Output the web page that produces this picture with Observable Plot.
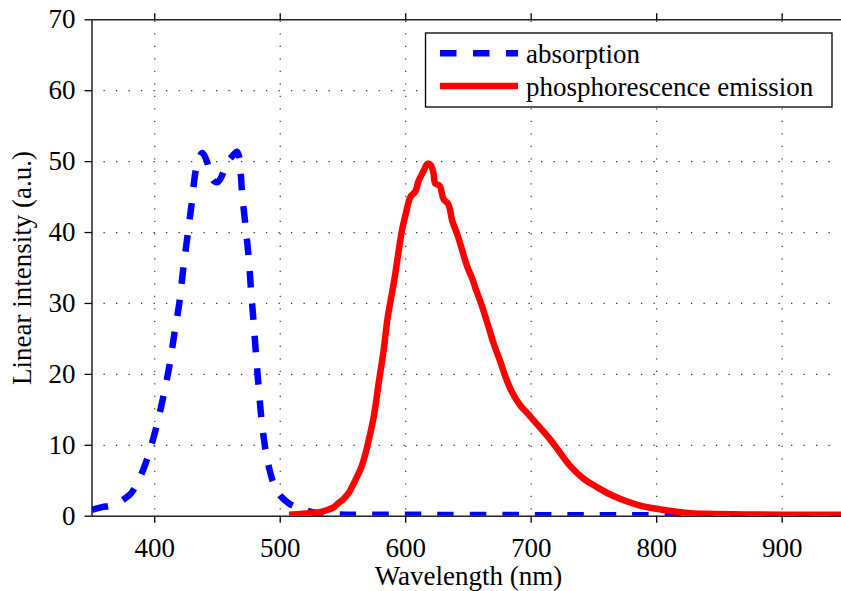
<!DOCTYPE html>
<html><head><meta charset="utf-8">
<script src="https://cdn.jsdelivr.net/npm/d3@7"></script>
<script src="https://cdn.jsdelivr.net/npm/@observablehq/plot@0.6"></script>
<style>
html,body{margin:0;padding:0;background:#fff;overflow:hidden}
#wrap{position:relative;width:841px;height:591px;overflow:hidden;background:#fff}
#wrap svg{display:block}
#legend{position:absolute;left:0;top:0}
</style></head><body><div id="wrap"></div>
<script>
// ---- data ----
const absWavelength = [350, 358, 365, 372, 377, 381, 387, 393, 400.6, 406.4, 411.7, 415.7, 419.7, 422.6, 426, 429.3, 432.4, 435, 438, 441, 444, 447, 450, 453, 456, 459, 462, 465.5, 467.5, 468.5, 469.6, 472.3, 474.9, 476.8, 478.9, 480.8, 482.9, 485.3, 488.8, 492, 495.4, 500, 507, 514, 521, 530, 545, 600, 700, 800, 950];
const absIntensity = [0.9, 1.27, 1.5, 2.0, 2.6, 3.2, 5.0, 7.6, 12.1, 16.5, 21.2, 25.8, 30.2, 34.7, 39.4, 43.9, 48.5, 50.5, 51.2, 50.3, 48.5, 47.3, 47.1, 47.8, 49.2, 50.2, 50.8, 51.4, 50.5, 48.5, 45.6, 41.0, 36.4, 31.7, 27.1, 22.5, 18.0, 13.3, 8.8, 6.2, 4.3, 2.9, 1.8, 1.2, 0.8, 0.4, 0.25, 0.2, 0.15, 0.12, 0.1];
const emWavelength = [507, 516, 525, 532, 538, 542.6, 546, 550.6, 555, 558.5, 565, 570.5, 574.5, 578.4, 582.4, 585.6, 589, 591.7, 594.4, 597, 600, 603.7, 607.7, 610.3, 614.3, 617.3, 620, 622.2, 623.6, 627, 630.2, 634, 637, 641, 645, 648.8, 652.8, 655.5, 660.8, 666, 670, 675.4, 679.4, 684.7, 691.3, 696.6, 703, 709, 715.2, 722, 731, 741.7, 752.4, 763, 776, 787, 800, 813, 827, 840, 870, 900, 950];
const emIntensity = [0.2, 0.3, 0.45, 0.6, 0.9, 1.27, 1.8, 2.45, 3.4, 4.6, 7.1, 10.7, 14.0, 18.7, 23.4, 28.0, 31.4, 34.2, 37.4, 40.3, 42.6, 45.0, 45.8, 47.3, 48.7, 49.7, 49.5, 48.3, 46.9, 46.6, 44.7, 44.0, 41.7, 39.8, 37.5, 35.3, 33.6, 32.2, 29.6, 26.7, 24.4, 21.8, 19.7, 17.5, 15.6, 14.6, 13.3, 12.1, 10.8, 9.2, 7.1, 5.3, 4.1, 3.06, 2.1, 1.5, 1.04, 0.7, 0.42, 0.33, 0.25, 0.22, 0.22];
const xTicks = [400, 500, 600, 700, 800, 900];
const yTicks = [0, 10, 20, 30, 40, 50, 60, 70];
const xDomain = [350, 950];
const yDomain = [0, 70];
const seriesNames = ["absorption", "phosphorescence emission"];
const seriesColors = ["#0000ff", "#ff0000"];
const xLabel = "Wavelength (nm)";
const yLabel = "Linear intensity (a.u.)";

const absData = absWavelength.map((x, i) => ({x, y: absIntensity[i]}));
const emData = emWavelength.map((x, i) => ({x, y: emIntensity[i]}));
const FONT = "'Liberation Serif', 'Times New Roman', serif";
const gridStyle = {stroke: "#333", strokeOpacity: 1, strokeWidth: 1.2, strokeDasharray: "1.3,11.2"};

const chart = Plot.plot({
  width: 841, height: 591,
  marginLeft: 91.5, marginRight: -3.4, marginTop: 19.3, marginBottom: 75.3,
  style: {fontFamily: FONT, fontSize: "27px", color: "#000", background: "#fff", overflow: "hidden"},
  x: {domain: xDomain},
  y: {domain: yDomain},
  marks: [
    Plot.gridX({ticks: xTicks, ...gridStyle, strokeDashoffset: -14}),
    Plot.gridY({ticks: yTicks.filter(v => v > yDomain[0] && v < yDomain[1]), ...gridStyle, strokeDashoffset: -12}),
    Plot.frame({stroke: "#000", strokeWidth: 1.3}),
    Plot.axisX({ticks: xTicks, anchor: "bottom", tickSize: 7, tickPadding: 15, fontSize: 27, label: null, strokeWidth: 1.3}),
    Plot.axisX({ticks: xTicks, anchor: "top", tickSize: 7, tickFormat: () => "", label: null, strokeWidth: 1.3}),
    Plot.axisY({ticks: yTicks, anchor: "left", tickSize: 7, tickPadding: 9.5, fontSize: 27, label: null, strokeWidth: 1.3}),
    Plot.line(absData, {x: "x", y: "y", stroke: seriesColors[0], strokeWidth: 6.5, strokeDasharray: "16.5,16", strokeLinecap: "butt", curve: "catmull-rom", clip: true}),
    Plot.line(emData, {x: "x", y: "y", stroke: seriesColors[1], strokeWidth: 6.5, strokeLinejoin: "round", strokeLinecap: "butt", curve: "catmull-rom", clip: true}),
    Plot.text([yLabel], {text: d => d, frameAnchor: "left", textAnchor: "middle", rotate: -90, dx: -69.5, fontSize: 27, lineAnchor: "middle"}),
    Plot.text([xLabel], {text: d => d, frameAnchor: "bottom", textAnchor: "middle", dy: 60, fontSize: 27, lineAnchor: "middle"})
  ]
});
const wrap = document.getElementById("wrap");
wrap.appendChild(chart);

// legend overlay
const ns = "http://www.w3.org/2000/svg";
const lg = document.createElementNS(ns, "svg");
lg.setAttribute("id", "legend");
lg.setAttribute("width", 841);
lg.setAttribute("height", 591);
lg.style.fontFamily = FONT;
const box = document.createElementNS(ns, "rect");
box.setAttribute("x", 425.5); box.setAttribute("y", 33);
box.setAttribute("width", 406.5); box.setAttribute("height", 74);
box.setAttribute("fill", "#fff"); box.setAttribute("stroke", "#000"); box.setAttribute("stroke-width", 1.3);
lg.appendChild(box);
const rowY = [53.3, 86];
const baseY = [63.3, 96];
seriesNames.forEach((name, i) => {
  const ln = document.createElementNS(ns, "line");
  ln.setAttribute("x1", 440); ln.setAttribute("x2", 518);
  ln.setAttribute("y1", rowY[i]); ln.setAttribute("y2", rowY[i]);
  ln.setAttribute("stroke", seriesColors[i]); ln.setAttribute("stroke-width", 6.5);
  if (i === 0) ln.setAttribute("stroke-dasharray", "16.5,16.5");
  lg.appendChild(ln);
  const t = document.createElementNS(ns, "text");
  t.setAttribute("x", 526); t.setAttribute("y", baseY[i]);
  t.setAttribute("font-size", 27); t.setAttribute("fill", "#000");
  t.textContent = name;
  lg.appendChild(t);
});
wrap.appendChild(lg);
</script></body></html>
